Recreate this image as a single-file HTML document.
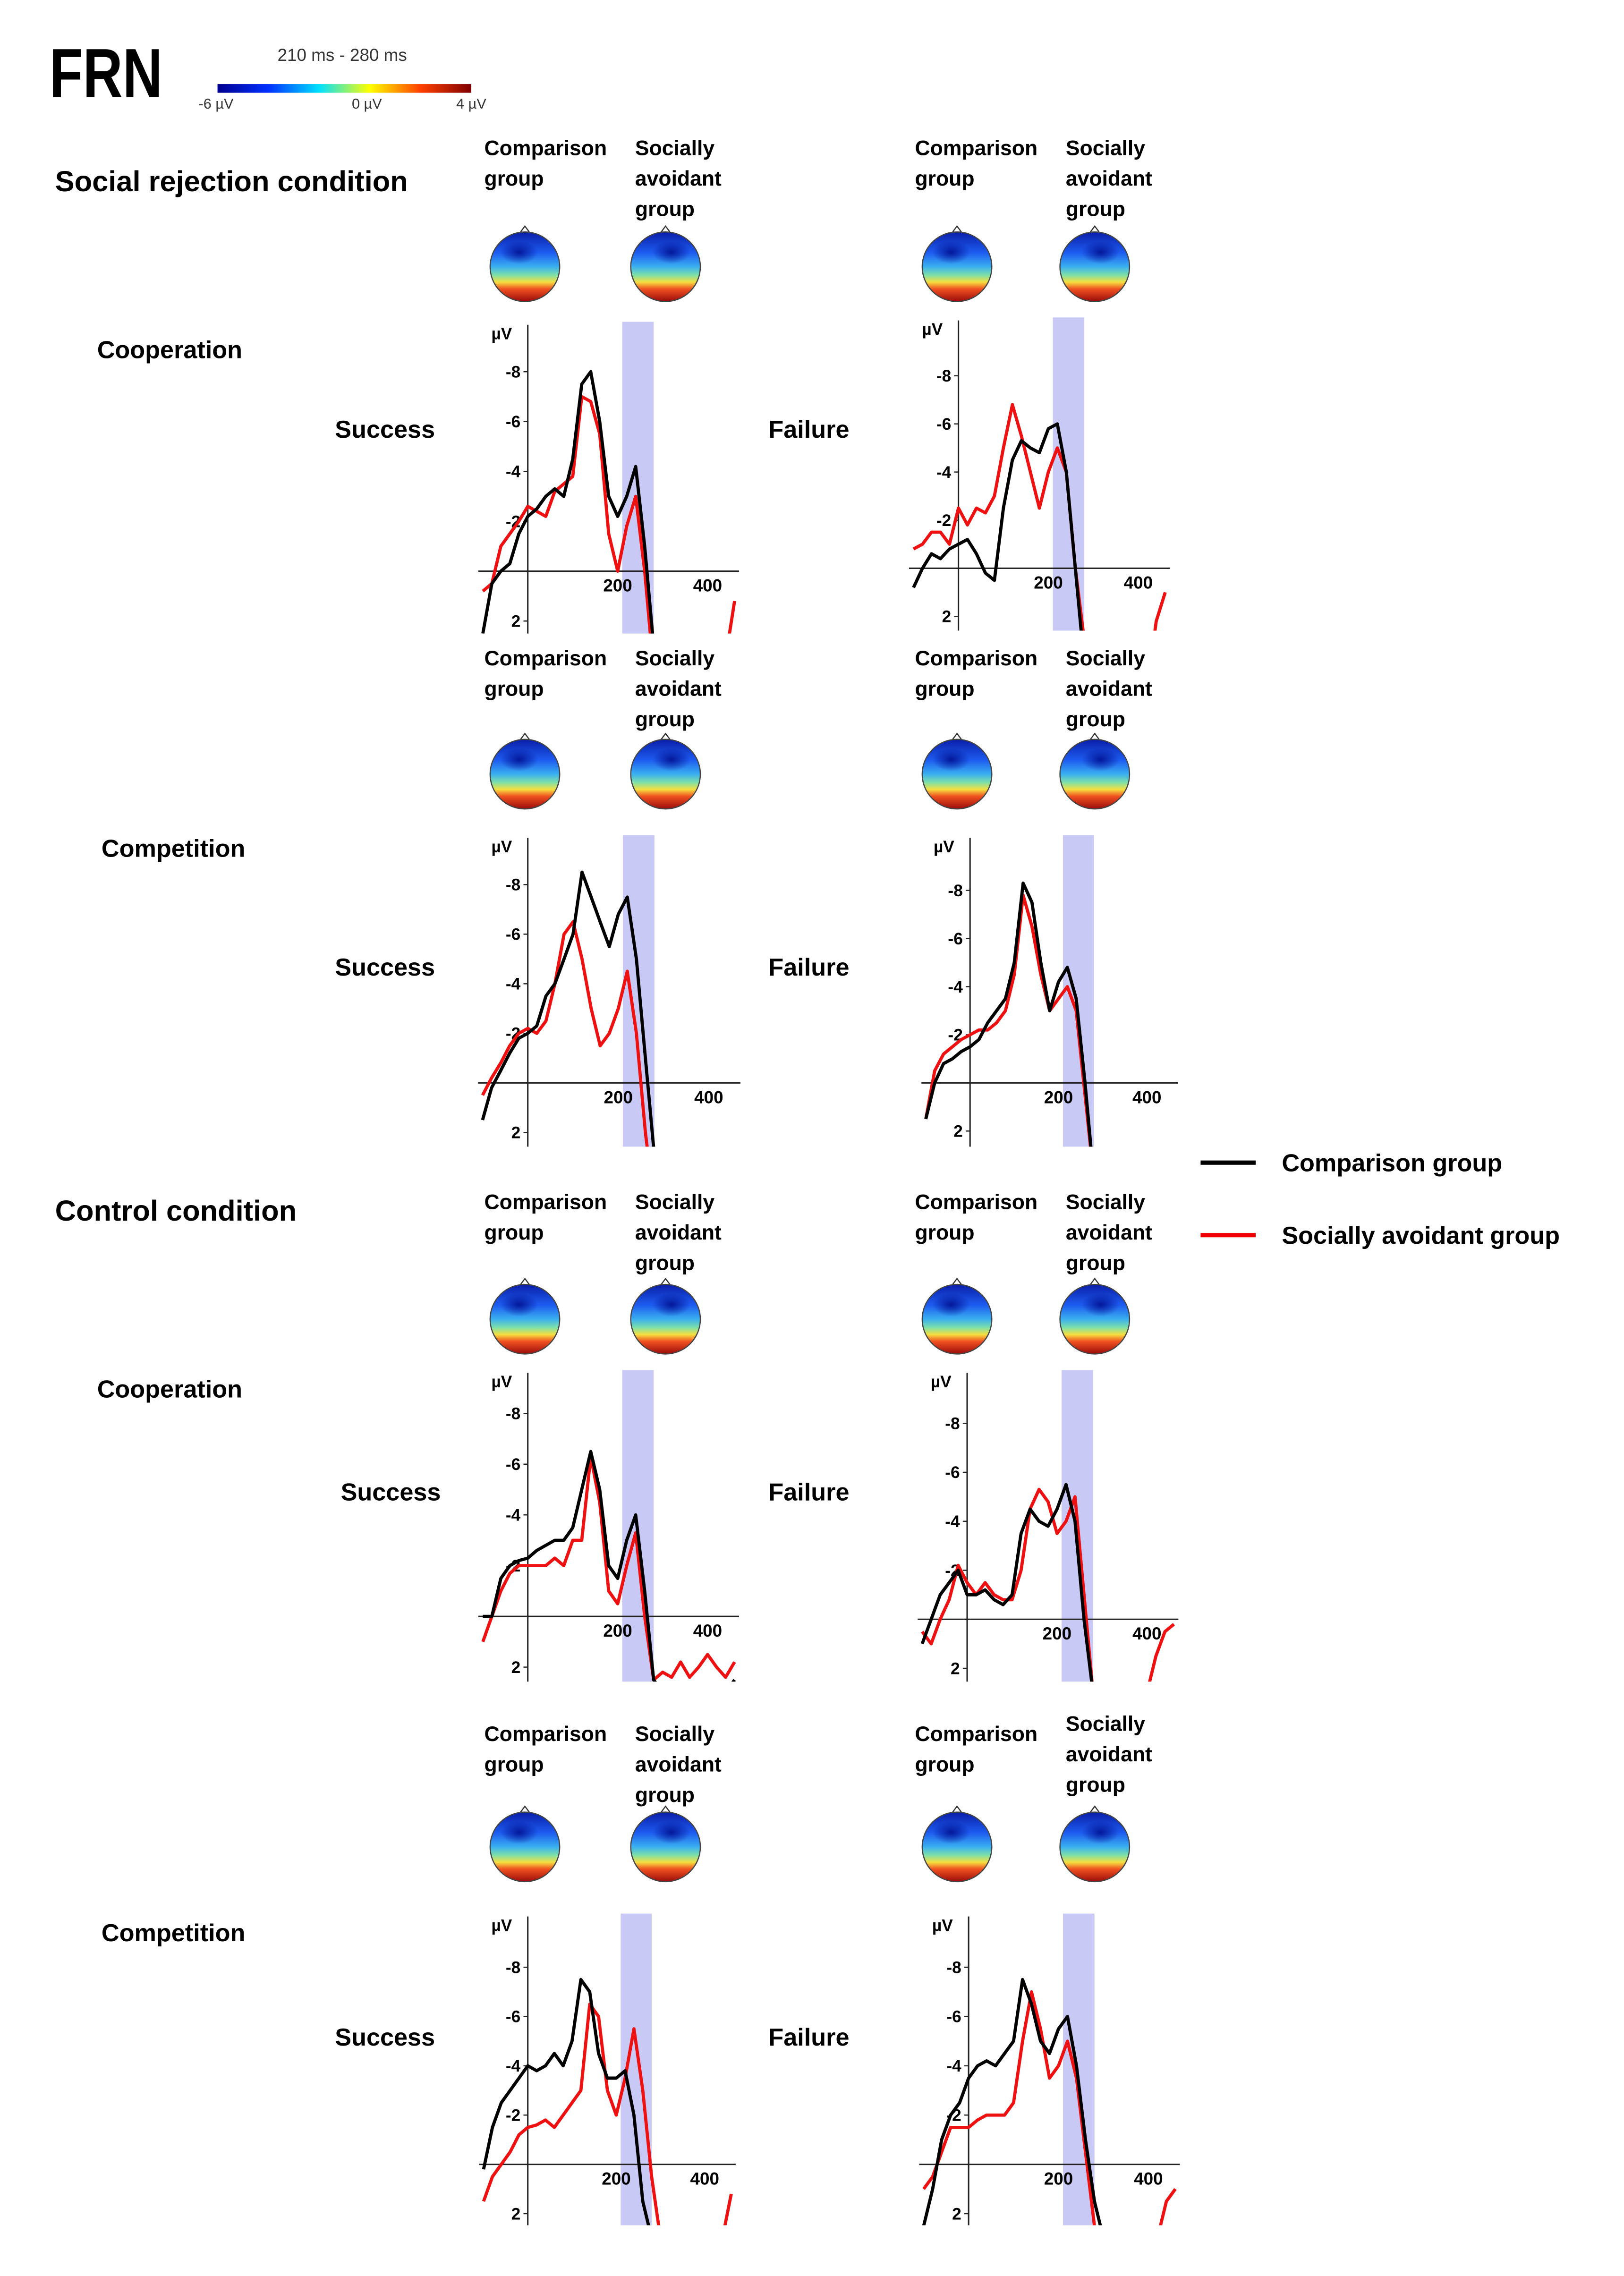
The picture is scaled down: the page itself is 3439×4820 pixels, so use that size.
<!DOCTYPE html>
<html><head><meta charset="utf-8"><style>
html,body{margin:0;padding:0;background:#fff;}
svg{display:block;font-family:"Liberation Sans",sans-serif;}
</style></head><body>
<svg id="fig" width="3439" height="4820" viewBox="0 0 1120 1570" preserveAspectRatio="none" xmlns="http://www.w3.org/2000/svg">
<defs>
<linearGradient id="cbar" x1="0" x2="1" y1="0" y2="0">
<stop offset="0" stop-color="#00008f"/><stop offset="0.2" stop-color="#0030ff"/><stop offset="0.4" stop-color="#00e0ff"/><stop offset="0.6" stop-color="#ffff00"/><stop offset="0.8" stop-color="#ff4000"/><stop offset="1" stop-color="#800000"/>
</linearGradient>
<linearGradient id="head" x1="0" x2="0" y1="0" y2="1">
<stop offset="0" stop-color="#0a1ea8"/><stop offset="0.3" stop-color="#1d5cf0"/><stop offset="0.5" stop-color="#3ab0f0"/><stop offset="0.62" stop-color="#7ee0a8"/><stop offset="0.72" stop-color="#f5e040"/><stop offset="0.82" stop-color="#f05020"/><stop offset="1" stop-color="#9a0c0c"/>
</linearGradient>
<radialGradient id="blob" cx="0.5" cy="0.5" r="0.5"><stop offset="0" stop-color="#001090" stop-opacity="0.9"/><stop offset="1" stop-color="#001090" stop-opacity="0"/></radialGradient>
</defs>

<text x="34" y="67" font-size="48" font-weight="bold" textLength="78" lengthAdjust="spacingAndGlyphs">FRN</text>
<text x="236" y="42" font-size="12" text-anchor="middle" fill="#333">210 ms - 280 ms</text>
<rect x="150" y="58" width="175" height="6" fill="url(#cbar)"/>
<text x="149" y="75" font-size="10" text-anchor="middle" fill="#333">-6 µV</text>
<text x="253" y="75" font-size="10" text-anchor="middle" fill="#333">0 µV</text>
<text x="325" y="75" font-size="10" text-anchor="middle" fill="#333">4 µV</text>

<text x="38" y="132" font-size="20" font-weight="bold">Social rejection condition</text>
<text x="38" y="842" font-size="20" font-weight="bold">Control condition</text>

<g>
<line x1="828" y1="802" x2="866" y2="802" stroke="#000" stroke-width="3"/>
<text x="884" y="808" font-size="17" font-weight="bold">Comparison group</text>
<line x1="828" y1="852" x2="866" y2="852" stroke="#e00" stroke-width="3"/>
<text x="884" y="858" font-size="17" font-weight="bold">Socially avoidant group</text>
</g>
<g id="content"></g>
</svg>
<script>
const times = [-100,-80,-60,-40,-20,0,20,40,60,80,100,120,140,160,180,200,220,240,260,280,300,320,340,360,380,400,420,440,460];
const xTicks = [200, 400];
const yTicks = [-8, -6, -4, -2, 2];
const yTickLabels = ["-8","-6","-4","-2","2"];
const windowMs = [210, 280];
const rowLabels = ["Cooperation","Competition","Cooperation","Competition"];
const colLabels = ["Success","Failure"];

const c1Comparison = [2.5,0.5,0,-0.3,-1.5,-2.2,-2.5,-3,-3.3,-3,-4.5,-7.5,-8,-6,-3,-2.2,-3,-4.2,-1,3,5,5,5,5,5,5,5,5,5];
const c1Avoidant   = [0.8,0.5,-1,-1.5,-2,-2.6,-2.4,-2.2,-3.2,-3.5,-3.8,-7,-6.8,-5.5,-1.5,0,-1.8,-3,0,4,5,5,5,5,5,5,5,3.5,1.2];
const c2Comparison = [0.8,0,-0.6,-0.4,-0.8,-1,-1.2,-0.6,0.2,0.5,-2.5,-4.5,-5.3,-5,-4.8,-5.8,-6,-4,0,4,5,5,5,5,5,5,5,5,5];
const c2Avoidant   = [-0.8,-1,-1.5,-1.5,-1,-2.5,-1.8,-2.5,-2.3,-3,-5,-6.8,-5.5,-4,-2.5,-4,-5,-4,0,3,5,5,5,5,5,5,5,2.2,1];
const c3Comparison = [1.5,0.2,-0.5,-1.2,-1.8,-2,-2.3,-3.5,-4,-5,-6,-8.5,-7.5,-6.5,-5.5,-6.8,-7.5,-5,-1,3,5,5,5,5,5,5,5,5,5];
const c3Avoidant   = [0.5,-0.2,-0.8,-1.5,-2,-2.2,-2,-2.5,-4,-6,-6.5,-5,-3,-1.5,-2,-3,-4.5,-2,2,5,5,5,5,5,5,5,5,5,5];
const c4Comparison = [1.5,0,-0.8,-1,-1.3,-1.5,-1.8,-2.5,-3,-3.5,-5,-8.3,-7.5,-5,-3,-4.2,-4.8,-3.5,0,4,5,5,5,5,5,5,5,5,5];
const c4Avoidant   = [1.5,-0.5,-1.2,-1.5,-1.8,-2,-2.2,-2.2,-2.5,-3,-4.5,-7.8,-6.5,-4.5,-3,-3.5,-4,-3,0.5,4,5,5,5,5,5,5,5,5,5];
const c5Comparison = [0,0,-1.5,-2,-2.2,-2.3,-2.6,-2.8,-3,-3,-3.5,-5,-6.5,-5,-2,-1.5,-3,-4,-1,2.5,3,3,3,3,3,3,3,3,2.5];
const c5Avoidant   = [1,0,-1,-1.7,-2,-2,-2,-2,-2.3,-2,-3,-3,-6.3,-4.5,-1,-0.5,-2,-3.3,0,2.5,2.2,2.4,1.8,2.4,2,1.5,2,2.4,1.8];
const c6Comparison = [1,0,-1,-1.5,-2,-1,-1,-1.2,-0.8,-0.6,-1,-3.5,-4.5,-4,-3.8,-4.5,-5.5,-4,0,3,5,5,5,5,5,5,5,5,5];
const c6Avoidant   = [0.5,1,0,-0.8,-2.2,-1.5,-1,-1.5,-1,-0.8,-0.8,-2,-4.5,-5.3,-4.8,-3.5,-4,-5,-1,3,5,5,5,5,5,3,1.5,0.5,0.2];
const c7Comparison = [0.2,-1.5,-2.5,-3,-3.5,-4,-3.8,-4,-4.5,-4,-5,-7.5,-7,-4.5,-3.5,-3.5,-3.8,-2,1.5,3,5,5,5,5,5,5,5,5,5];
const c7Avoidant   = [1.5,0.5,0,-0.5,-1.2,-1.5,-1.6,-1.8,-1.5,-2,-2.5,-3,-6.5,-6,-3,-2,-3.5,-5.5,-3,0.5,3,5,5,5,5,5,5,3,1.2];
const c8Comparison = [2.5,1,-1,-2,-2.5,-3.5,-4,-4.2,-4,-4.5,-5,-7.5,-6.5,-5,-4.5,-5.5,-6,-4,-1,1.5,3,5,5,5,5,5,5,5,5];
const c8Avoidant   = [1,0.5,-0.5,-1.5,-1.5,-1.5,-1.8,-2,-2,-2,-2.5,-5,-7,-5.5,-3.5,-4,-5,-3.5,-0.5,2.5,5,5,5,5,5,5,3,1.5,1];

// layout (not data): per-chart geometry
const charts = [
 {cmp:c1Comparison, av:c1Avoidant, ax:364, zero:394, ppu:17.2, ppms:0.31, top:222, bottom:437},
 {cmp:c2Comparison, av:c2Avoidant, ax:661, zero:392, ppu:16.6, ppms:0.31, top:219, bottom:435},
 {cmp:c3Comparison, av:c3Avoidant, ax:364, zero:747, ppu:17.1, ppms:0.312, top:576, bottom:791},
 {cmp:c4Comparison, av:c4Avoidant, ax:669, zero:747, ppu:16.6, ppms:0.305, top:576, bottom:791},
 {cmp:c5Comparison, av:c5Avoidant, ax:364, zero:1115, ppu:17.5, ppms:0.31, top:945, bottom:1160},
 {cmp:c6Comparison, av:c6Avoidant, ax:667, zero:1117, ppu:16.9, ppms:0.31, top:945, bottom:1160},
 {cmp:c7Comparison, av:c7Avoidant, ax:364, zero:1493, ppu:17, ppms:0.305, top:1320, bottom:1535},
 {cmp:c8Comparison, av:c8Avoidant, ax:668, zero:1493, ppu:17, ppms:0.31, top:1320, bottom:1535}
];
const headerY = [107, 459, 834, 1201];
const headY = [184, 534, 910, 1274];
const rowLabelPos = [[67,247],[70,591],[67,964],[70,1339]];
const colLabelY = [302, 673, 1035, 1411];

const NS = "http://www.w3.org/2000/svg";
const root = document.getElementById('content');
function mk(tag, attrs, parent){
  const e = document.createElementNS(NS, tag);
  for (const k in attrs) e.setAttribute(k, attrs[k]);
  (parent||root).appendChild(e);
  return e;
}
function txt(s, x, y, size, parent, anchor){
  const t = mk('text', {x:x, y:y, 'font-size':size, 'font-weight':'bold', 'text-anchor':anchor||'start'}, parent);
  t.textContent = s;
  return t;
}

for (let r=0; r<4; r++){
  const rl = txt(rowLabels[r], rowLabelPos[r][0], rowLabelPos[r][1], 17);
  
  
  for (let c=0; c<2; c++){
    const cl = txt(colLabels[c], c===0 ? (r===2?235:231) : 530, colLabelY[r], 17);
    
    
    const bx = c===0 ? 334 : 631;
    const hy = headerY[r];
    const g1 = mk('g', {});
    
    
    txt('Comparison', bx, hy, 14.5, g1); txt('group', bx, hy+21, 14.5, g1);
    const g2 = mk('g', {});
    
    
    const sy = (r===3 && c===1) ? hy-7 : hy;
    txt('Socially', bx+104, sy, 14.5, g2); txt('avoidant', bx+104, sy+21, 14.5, g2); txt('group', bx+104, sy+42, 14.5, g2);
    const cxs = c===0 ? [362,459] : [660,755];
    for (let h=0; h<2; h++){
      const hg = mk('g', {});
      
      
      const cx = cxs[h], cy = headY[r];
      mk('path', {d:`M${cx-3} ${cy-24} L${cx} ${cy-28} L${cx+3} ${cy-24}`, fill:'#fff', stroke:'#333', 'stroke-width':0.8}, hg);
      mk('circle', {cx:cx, cy:cy, r:24, fill:'url(#head)', stroke:'#444', 'stroke-width':0.8}, hg);
      mk('ellipse', {cx:cx-4+h*8, cy:cy-10, rx:13, ry:8, fill:'url(#blob)'}, hg);
    }
  }
}

charts.forEach((ch, i) => {
  const g = mk('g', {});
  
  
  const X = t => ch.ax + t*ch.ppms;
  const Y = v => ch.zero + v*ch.ppu;
  const x0 = X(-110), x1 = X(470);
  const band = mk('rect', {x:X(windowMs[0]), y:ch.top, width:X(windowMs[1])-X(windowMs[0]), height:ch.bottom-ch.top, fill:'#c9c9f6'}, g);
  
  
  const yax = mk('line', {x1:ch.ax, y1:ch.top+2, x2:ch.ax, y2:ch.bottom, stroke:'#222', 'stroke-width':1}, g);
  
  
  const xax = mk('line', {x1:x0, y1:ch.zero, x2:x1, y2:ch.zero, stroke:'#222', 'stroke-width':1}, g);
  
  
  const unit = txt('µV', ch.ax-18, ch.top+12, 11.5, g, 'middle');
  
  
  yTicks.forEach((v, k) => {
    mk('line', {x1:ch.ax-3, y1:Y(v), x2:ch.ax, y2:Y(v), stroke:'#222', 'stroke-width':0.8}, g);
    const t = txt(yTickLabels[k], ch.ax-5, Y(v)+4, 11.5, g, 'end');
    
    
  });
  xTicks.forEach(v => {
    const t = txt(String(v), X(v), ch.zero+14, 12, g, 'middle');
    
    
  });
  const cid = 'clip' + i;
  const cp = mk('clipPath', {id:cid}, g);
  mk('rect', {x:x0, y:ch.top, width:x1-x0, height:ch.bottom-ch.top}, cp);
  [[ch.av, '#ee1111', 'avoidant-erp-line'], [ch.cmp, '#000', 'comparison-erp-line']].forEach(([vals, col, nm]) => {
    const d = vals.map((v, k) => (k ? 'L' : 'M') + X(times[k]).toFixed(1) + ' ' + Y(v).toFixed(1)).join(' ');
    const p = mk('path', {d:d, fill:'none', stroke:col, 'stroke-width':2.2, 'stroke-linejoin':'round', 'clip-path':`url(#${cid})`}, g);
    
    
  });
});
</script>
</body></html>
